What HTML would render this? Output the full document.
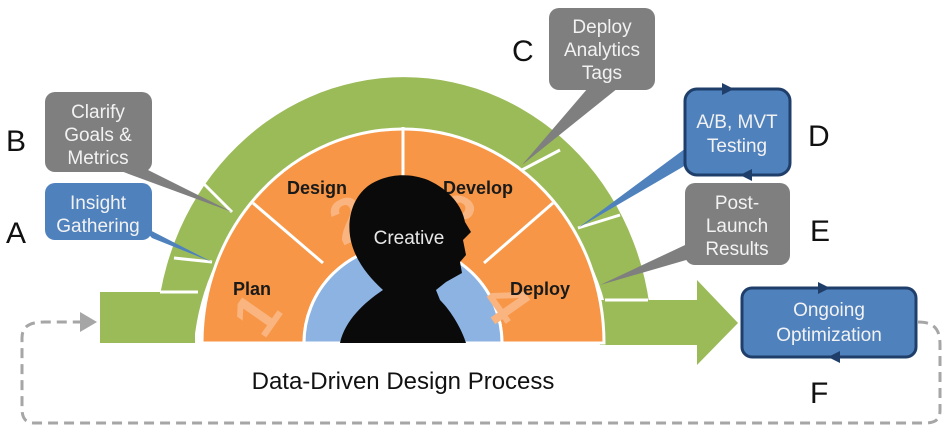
<!DOCTYPE html>
<html><head><meta charset="utf-8"><style>
html,body{margin:0;padding:0;background:#fff;}
svg{display:block;}
text{font-family:"Liberation Sans",sans-serif;}
</style></head><body>
<svg width="947" height="434" viewBox="0 0 947 434" xmlns="http://www.w3.org/2000/svg">
<path d="M918,322 C935,322 940,330 940,345 L940,410 C940,420 935,423 925,423 L35,423 C25,423 22,418 22,408 L22,338 C22,326 30,322 45,322 L82,322" fill="none" stroke="#a6a6a6" stroke-width="3" stroke-dasharray="10,6"/>
<polygon points="80,312 97,322 80,332" fill="#a6a6a6"/>
<path d="M156,343 A248,266 0 0 1 652,343 L612,343 A210,225 0 0 0 194,343 Z" fill="#9bbb59"/>
<rect x="100" y="292" width="95" height="51" fill="#9bbb59"/>
<polygon points="600,300 697,300 697,280 738,323 697,365 697,345 600,345" fill="#9bbb59"/>
<g stroke="#fff" stroke-width="3">
<line x1="160" y1="292" x2="198" y2="292"/>
<line x1="174" y1="258" x2="212" y2="262"/>
<line x1="200" y1="180" x2="232" y2="212"/>
<line x1="560" y1="150" x2="522" y2="170"/>
<line x1="620" y1="215" x2="578" y2="228"/>
<line x1="648" y1="300" x2="605" y2="300"/>
</g>
<path d="M202,343 A201,214 0 0 1 604,343 L502,343 A99,98 0 0 0 304,343 Z" fill="#f79646" stroke="#fff" stroke-width="3"/>
<path d="M304,343 A99,98 0 0 1 502,343 Z" fill="#8db3e2" stroke="#fff" stroke-width="3"/>
<g stroke="#fff" stroke-width="3">
<line x1="253" y1="203" x2="323" y2="263"/>
<line x1="403" y1="127" x2="403" y2="245"/>
<line x1="553" y1="203" x2="484" y2="263"/>
</g>
<g fill="#f9b47f" font-weight="bold" font-size="62">
<text x="235" y="335" transform="rotate(-55 255 310)">1</text>
<text x="330" y="240" transform="rotate(-25 350 215)">2</text>
<text x="440" y="240" transform="rotate(25 460 215)">3</text>
<text x="495" y="330" transform="rotate(55 515 300)">4</text>
</g>
<g font-weight="bold" font-size="18" fill="#1a1a1a">
<text x="233" y="295">Plan</text>
<text x="287" y="194">Design</text>
<text x="443" y="194">Develop</text>
<text x="510" y="295">Deploy</text>
</g>
<path d="M340,343 C345,320 365,302 383,290 C372,280 358,265 352,245 C346,225 350,200 368,186 C385,174 408,172 428,180 C450,190 462,206 465,222 L471,232 L463,240 L466,255 L460,262 L462,273 L446,282 L436,290 L440,300 C452,312 462,330 466,343 Z" fill="#0a0a0a"/>
<text x="409" y="244" font-size="19" fill="#e8e8e8" text-anchor="middle">Creative</text>
<polygon points="140,225 152,238 212,262" fill="#4f81bd"/>
<polygon points="118,170 148,170 232,212" fill="#7f7f7f"/>
<polygon points="588,88 618,88 522,165" fill="#7f7f7f"/>
<polygon points="686,148 686,165 578,228" fill="#4f81bd"/>
<polygon points="700,238 700,256 600,285" fill="#7f7f7f"/>
<rect x="45" y="92" width="107" height="80" rx="10" fill="#7f7f7f"/>
<rect x="45" y="183" width="107" height="57" rx="10" fill="#4f81bd"/>
<rect x="549" y="8" width="106" height="82" rx="10" fill="#7f7f7f"/>
<rect x="685" y="89" width="105" height="86" rx="12" fill="#4f81bd" stroke="#1f3f6a" stroke-width="3"/>
<polygon points="722,83 734,89 722,95" fill="#1f3f6a"/>
<polygon points="752,169 740,175 752,181" fill="#1f3f6a"/>
<rect x="685" y="183" width="105" height="82" rx="10" fill="#7f7f7f"/>
<rect x="742" y="288" width="174" height="69" rx="10" fill="#4f81bd" stroke="#1f3f6a" stroke-width="3"/>
<polygon points="818,282 830,288 818,294" fill="#1f3f6a"/>
<polygon points="840,351 828,357 840,363" fill="#1f3f6a"/>
<g fill="#f2f2f2" font-size="19" text-anchor="middle">
<text x="98" y="118">Clarify</text><text x="98" y="141">Goals &amp;</text><text x="98" y="164">Metrics</text>
<text x="98" y="209">Insight</text><text x="98" y="232">Gathering</text>
<text x="602" y="33">Deploy</text><text x="602" y="56">Analytics</text><text x="602" y="79">Tags</text>
<text x="737" y="128">A/B, MVT</text><text x="737" y="152">Testing</text>
<text x="737" y="209">Post-</text><text x="737" y="232">Launch</text><text x="737" y="255">Results</text>
<text x="829" y="316">Ongoing</text><text x="829" y="341">Optimization</text>
</g>
<g font-size="30" fill="#111">
<text x="6" y="243">A</text>
<text x="6" y="151">B</text>
<text x="512" y="61">C</text>
<text x="808" y="146">D</text>
<text x="810" y="241">E</text>
<text x="810" y="403">F</text>
</g>
<text x="403" y="389" font-size="24" fill="#111" text-anchor="middle">Data-Driven Design Process</text>
</svg>
</body></html>
